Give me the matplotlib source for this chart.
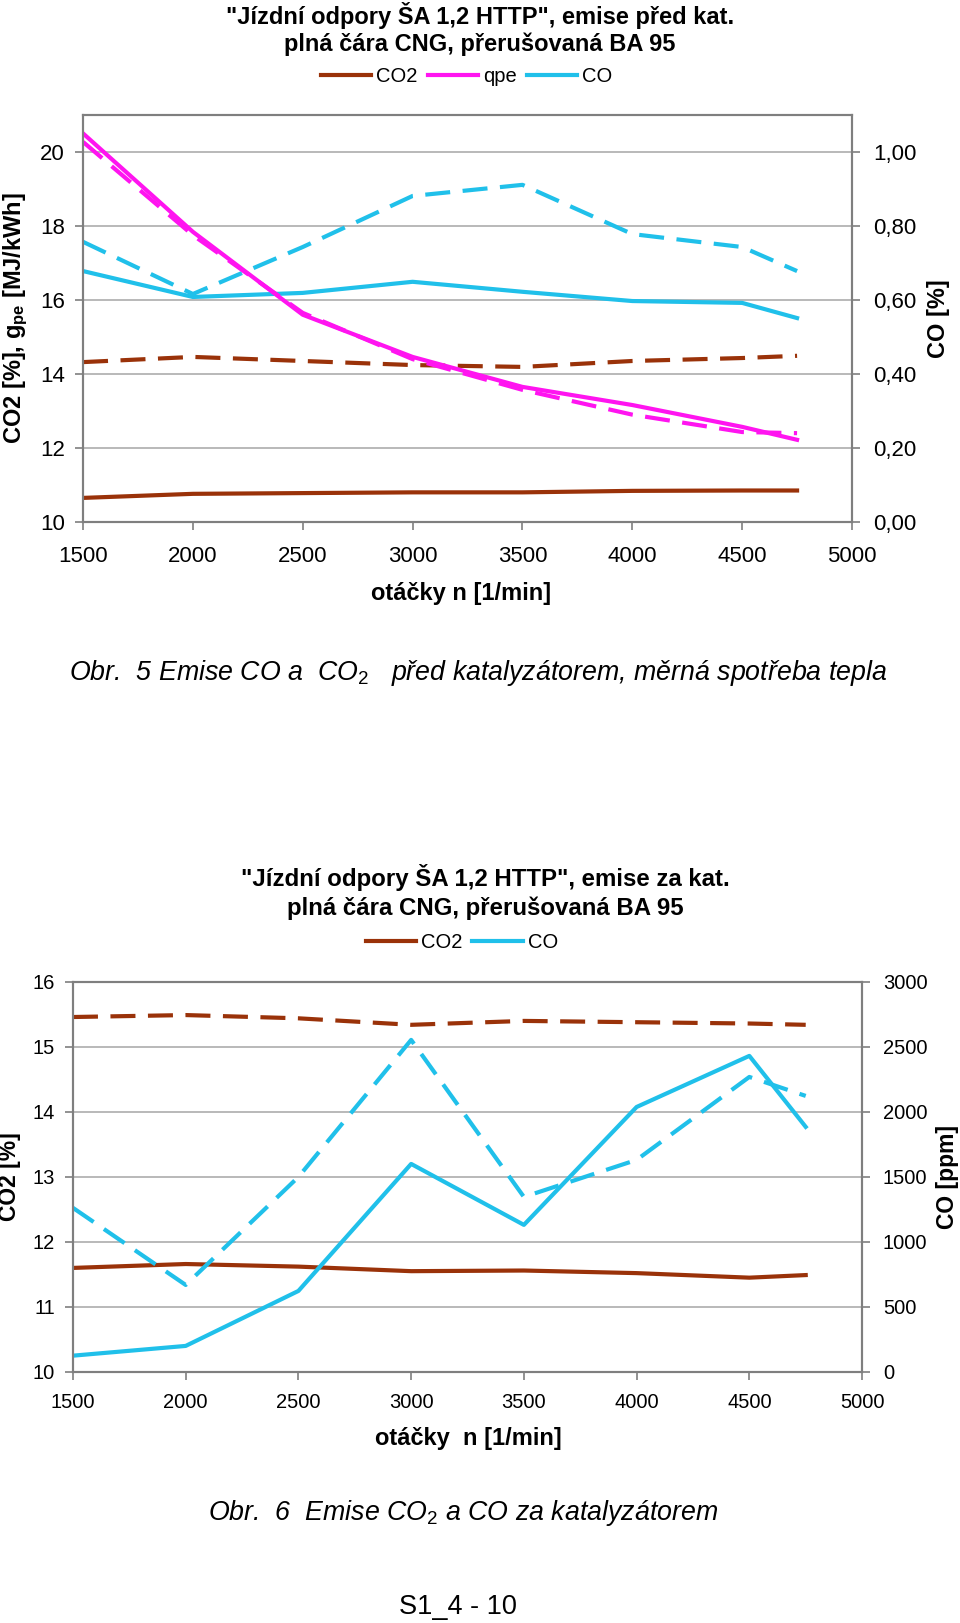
import matplotlib
matplotlib.use("Agg")
import matplotlib.pyplot as plt
from matplotlib.lines import Line2D
from matplotlib.ticker import FuncFormatter

plt.rcParams["font.family"] = ["Liberation Sans", "DejaVu Sans"]
plt.rcParams["mathtext.fontset"] = "custom"
plt.rcParams["mathtext.rm"] = "Liberation Sans"
plt.rcParams["mathtext.it"] = "Liberation Sans:italic"
plt.rcParams["mathtext.bf"] = "Liberation Sans:bold"

# otacky
rpm = [1500, 2000, 2500, 3000, 3500, 4000, 4500, 4750]

# Obr. 5 - emise pred katalyzatorem
co2_cng_pred = [10.65, 10.76, 10.78, 10.80, 10.80, 10.84, 10.85, 10.85]
co2_ba_pred = [14.32, 14.46, 14.35, 14.24, 14.19, 14.35, 14.43, 14.49]
qpe_cng = [20.50, 17.84, 15.60, 14.46, 13.65, 13.16, 12.57, 12.22]
qpe_ba = [20.27, 17.75, 15.65, 14.40, 13.57, 12.90, 12.43, 12.40]
co_cng_pred = [0.678, 0.608, 0.619, 0.649, 0.622, 0.597, 0.592, 0.551]
co_ba_pred = [0.757, 0.616, 0.743, 0.881, 0.911, 0.778, 0.743, 0.678]

# Obr. 6 - emise za katalyzatorem
co2_cng_za = [11.60, 11.66, 11.62, 11.55, 11.56, 11.52, 11.45, 11.49]
co2_ba_za = [15.46, 15.49, 15.44, 15.34, 15.40, 15.38, 15.36, 15.34]
co_cng_za = [125, 200, 623, 1600, 1131, 2038, 2431, 1885]
co_ba_za = [1262, 669, 1500, 2554, 1346, 1631, 2269, 2123]

BROWN = "#9A3209"
MAGENTA = "#FF14F0"
CYAN = "#20C0EA"
LW = 3.0
DASH = (6, 3)
GRID = "#ADADAD"
SPINE = "#7F7F7F"


def style_axes(ax, ax2, fs, xpad):
    for a in (ax, ax2):
        for s in a.spines.values():
            s.set_color(SPINE)
            s.set_linewidth(1.5)
        a.tick_params(colors=SPINE, labelcolor="black", labelsize=fs,
                      length=6, width=1.2, direction="out")
    ax.set_xlim(1500, 5000)
    ax.set_xticks(range(1500, 5001, 500))
    ax.grid(axis="y", color=GRID, linewidth=1.2)
    ax.set_axisbelow(True)
    ax.tick_params(axis="y", pad=7)
    ax2.tick_params(axis="y", pad=9)
    ax.tick_params(axis="x", pad=xpad)


def place_ylabels(ax, ax2, xl, xr):
    ax.yaxis.label.set_va("center")
    ax2.yaxis.label.set_va("center")
    ax.yaxis.set_label_coords(xl, 0.5)
    ax2.yaxis.set_label_coords(xr, 0.5)


fig = plt.figure(figsize=(9.6, 16.23), dpi=100)

# ---------- Obr. 5 ----------
ax = fig.add_axes([0.0865, 0.6784, 0.801, 0.2508])
ax2 = ax.twinx()
ax.plot(rpm, co2_cng_pred, color=BROWN, lw=LW)
ax.plot(rpm, co2_ba_pred, color=BROWN, lw=LW, dashes=DASH)
ax2.plot(rpm, co_cng_pred, color=CYAN, lw=LW)
ax2.plot(rpm, co_ba_pred, color=CYAN, lw=LW, dashes=DASH)
ax2.plot(rpm, qpe_ba, color=MAGENTA, lw=LW, dashes=DASH, transform=ax.transData)
ax2.plot(rpm, qpe_cng, color=MAGENTA, lw=LW, transform=ax.transData)
ax.set_ylim(10, 21)
ax.set_yticks(range(10, 21, 2))
ax2.set_ylim(0, 1.1)
ax2.set_yticks([0, 0.2, 0.4, 0.6, 0.8, 1.0])
ax2.yaxis.set_major_formatter(FuncFormatter(lambda v, p: f"{v:.2f}".replace(".", ",")))
style_axes(ax, ax2, 16, 11)
ax.set_ylabel(r"CO2 [%], g$_{\mathbf{pe}}$ [MJ/kWh]", fontsize=17, fontweight="bold")
ax2.set_ylabel("CO [%]", fontsize=17, fontweight="bold")
place_ylabels(ax, ax2, -0.088, 1.113)

fig.text(0.50, 0.9905, "\"Jízdní odpory ŠA 1,2 HTTP\", emise před kat.",
         ha="center", va="center", fontsize=17, fontweight="bold")
fig.text(0.50, 0.9725, "plná čára CNG, přerušovaná BA 95",
         ha="center", va="center", fontsize=17, fontweight="bold")
h5 = [Line2D([], [], color=c, lw=LW) for c in (BROWN, MAGENTA, CYAN)]
fig.legend(h5, ["CO2", "qpe", "CO"], loc="center", bbox_to_anchor=(0.486, 0.9526),
           ncol=3, frameon=False, fontsize=14.5, handlelength=2.5,
           handletextpad=0.25, columnspacing=0.5)
fig.text(0.48, 0.6346, "otáčky n [1/min]", ha="center", va="center",
         fontsize=17, fontweight="bold")
fig.text(0.498, 0.5853,
         r"Obr.  5 Emise CO a  CO$_{\mathit{2}}$   před katalyzátorem, měrná spotřeba tepla",
         ha="center", va="center", fontsize=19.3, style="italic")

# ---------- Obr. 6 ----------
bx = fig.add_axes([0.076, 0.1547, 0.822, 0.2403])
bx2 = bx.twinx()
bx.plot(rpm, co2_cng_za, color=BROWN, lw=LW)
bx.plot(rpm, co2_ba_za, color=BROWN, lw=LW, dashes=DASH)
bx2.plot(rpm, co_cng_za, color=CYAN, lw=LW)
bx2.plot(rpm, co_ba_za, color=CYAN, lw=LW, dashes=DASH)
bx.set_ylim(10, 16)
bx.set_yticks(range(10, 17))
bx2.set_ylim(0, 3000)
bx2.set_yticks(range(0, 3001, 500))
style_axes(bx, bx2, 14.5, 9)
bx.set_ylabel("CO2 [%]", fontsize=16.5, fontweight="bold")
bx2.set_ylabel("CO [ppm]", fontsize=16.5, fontweight="bold")
place_ylabels(bx, bx2, -0.080, 1.108)

fig.text(0.506, 0.4596, "\"Jízdní odpory ŠA 1,2 HTTP\", emise za kat.",
         ha="center", va="center", fontsize=17.3, fontweight="bold")
fig.text(0.506, 0.4405, "plná čára CNG, přerušovaná BA 95",
         ha="center", va="center", fontsize=17.3, fontweight="bold")
h6 = [Line2D([], [], color=c, lw=LW) for c in (BROWN, CYAN)]
fig.legend(h6, ["CO2", "CO"], loc="center", bbox_to_anchor=(0.481, 0.419),
           ncol=2, frameon=False, fontsize=14.5, handlelength=2.5,
           handletextpad=0.25, columnspacing=0.5)
fig.text(0.4875, 0.1134, "otáčky  n [1/min]", ha="center", va="center",
         fontsize=17, fontweight="bold")
fig.text(0.482, 0.0678,
         r"Obr.  6  Emise CO$_{\mathit{2}}$ a CO za katalyzátorem",
         ha="center", va="center", fontsize=19.3, style="italic")

fig.text(0.477, 0.0099, "S1_4 - 10", ha="center", va="center", fontsize=19.5)

fig.savefig("out.png", dpi=100)
